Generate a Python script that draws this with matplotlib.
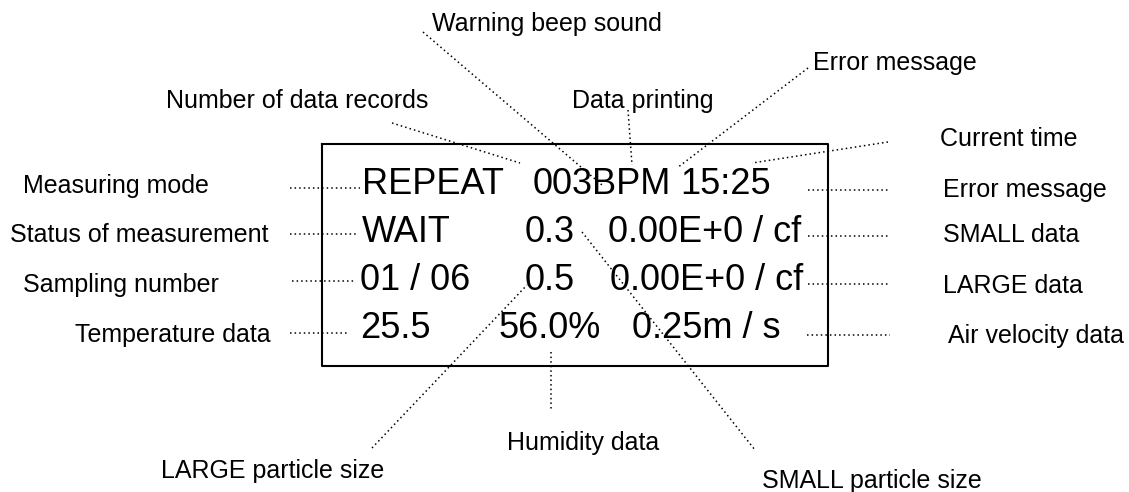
import matplotlib.pyplot as plt

plt.rcParams['font.family'] = ['Liberation Sans', 'DejaVu Sans']

# text shown on the display, one list per row: (token, left x)
display_rows = [
    ['REPEAT', '003BPM', '15:25'],
    ['WAIT', '0.3', '0.00E+0 / cf'],
    ['01 / 06', '0.5', '0.00E+0 / cf'],
    ['25.5', '56.0%', '0.25m / s'],
]
display_x = [
    [362, 533, 680],
    [362, 525, 608],
    [360, 525, 610],
    [360, 498, 632],
]
display_base = [194, 242, 290, 338]

# callout labels
left_labels = ['Measuring mode', 'Status of measurement', 'Sampling number', 'Temperature data']
right_labels = ['Error message', 'SMALL data', 'LARGE data', 'Air velocity data']
top_labels = ['Warning beep sound', 'Number of data records', 'Data printing',
              'Error message', 'Current time']
bottom_labels = ['LARGE particle size', 'Humidity data', 'SMALL particle size']

fig = plt.figure(figsize=(11.29, 4.92), dpi=100)
ax = fig.add_axes([0, 0, 1, 1])
ax.set_xlim(0, 1129)
ax.set_ylim(492, 0)
ax.axis('off')

# display frame
ax.plot([322, 828, 828, 322, 322], [144, 144, 366, 366, 144], color='black', lw=1.5)

for row, xs, yb in zip(display_rows, display_x, display_base):
    for tok, x in zip(row, xs):
        ax.text(x, yb, tok, fontsize=26, va='baseline', ha='left')

dot = dict(color='black', lw=1.1, linestyle=(0, (1, 2)))

# left side
left_x = [23, 10, 23, 75]
left_base = [193, 242, 292, 342]
left_lines = [(290, 360, 188), (290, 357, 234), (292, 355, 281), (290, 347, 333)]
for lab, x, yb in zip(left_labels, left_x, left_base):
    ax.text(x, yb, lab, fontsize=18, va='baseline', ha='left')
for x0, x1, y in left_lines:
    ax.plot([x0, x1], [y, y], **dot)

# right side
right_x = [943, 943, 943, 948]
right_base = [197, 242, 293, 343]
right_lines = [(808, 890, 190), (808, 890, 236), (808, 890, 284), (807, 890, 335)]
for lab, x, yb in zip(right_labels, right_x, right_base):
    ax.text(x, yb, lab, fontsize=18, va='baseline', ha='left')
for x0, x1, y in right_lines:
    ax.plot([x0, x1], [y, y], **dot)

# top labels
ax.text(432, 31, top_labels[0], fontsize=18, va='baseline', ha='left')
ax.text(428, 108, top_labels[1], fontsize=18, va='baseline', ha='right')
ax.text(572, 108, top_labels[2], fontsize=18, va='baseline', ha='left')
ax.text(813, 70, top_labels[3], fontsize=18, va='baseline', ha='left')
ax.text(940, 146, top_labels[4], fontsize=18, va='baseline', ha='left')
ax.plot([423, 602], [32, 185], **dot)
ax.plot([392, 520], [123, 163], **dot)
ax.plot([628, 632], [110, 165], **dot)
ax.plot([808, 677], [68, 168], **dot)
ax.plot([888, 752], [142, 163], **dot)

# bottom labels
ax.text(384, 478, bottom_labels[0], fontsize=18, va='baseline', ha='right')
ax.text(507, 450, bottom_labels[1], fontsize=18, va='baseline', ha='left')
ax.text(762, 488, bottom_labels[2], fontsize=18, va='baseline', ha='left')
ax.plot([372, 527], [448, 285], **dot)
ax.plot([551, 551], [352, 410], **dot)
ax.plot([582, 755], [232, 450], **dot)

fig.savefig('out.png', dpi=100)
